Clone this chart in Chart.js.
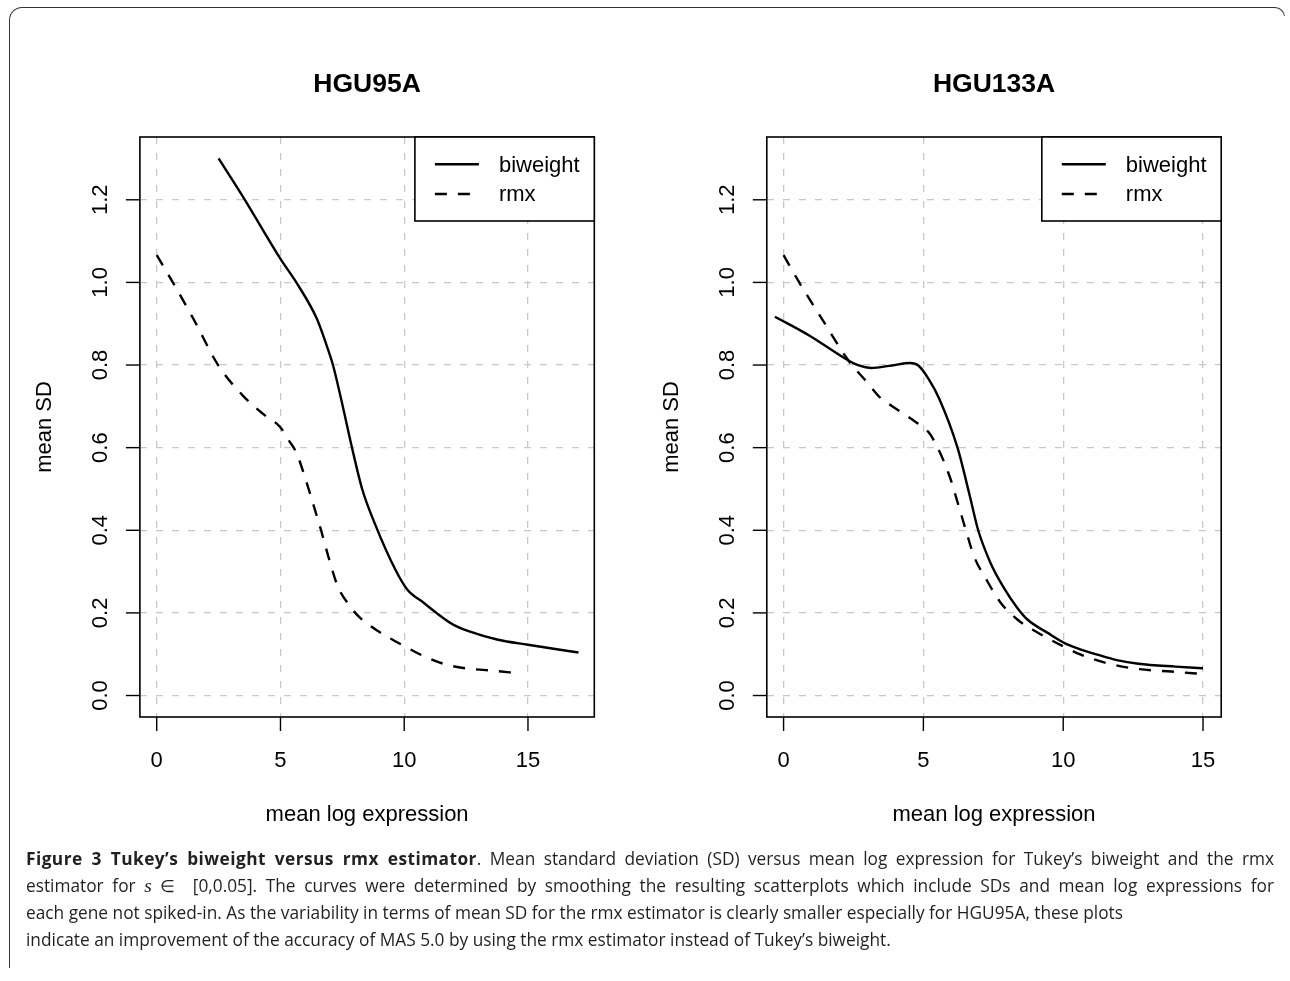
<!DOCTYPE html>
<html>
<head>
<meta charset="utf-8">
<script src="https://cdn.jsdelivr.net/npm/chart.js@4.4.1/dist/chart.umd.min.js"></script>
<style>
  html, body { margin: 0; padding: 0; background: #fff; width: 1290px; height: 981px; overflow: hidden; }
  #frame { position: absolute; left: 9px; top: 7px; width: 1276px; height: 961px;
           border-top: 1.5px solid #333; border-left: 1.5px solid #333; border-right: 1.5px solid #333;
           border-top-left-radius: 13px; border-top-right-radius: 10px; box-sizing: border-box; }
  #frameMask { position: absolute; left: 1276px; top: 16px; width: 14px; height: 965px; background: #fff; }
  canvas { position: absolute; top: 0; }
  #c1 { left: 0; }
  #c2 { left: 645px; }
  #caption { position: absolute; left: 26px; top: 845px; width: 1248px; font-family: "Open Sans", sans-serif;
             font-size: 17.3px; line-height: 27px; color: #231f20; }
  #caption .j { text-align: justify; text-align-last: justify; white-space: nowrap; }
  #caption .l { text-align: left; white-space: nowrap; }
  #caption b { font-weight: 700; letter-spacing: 0.45px; }
  #caption i { font-family: "Liberation Serif", serif; font-style: italic; font-size: 19.5px; }
</style>
</head>
<body>
<div id="frame"></div>
<div id="frameMask"></div>
<canvas id="c1" width="645" height="850"></canvas>
<canvas id="c2" width="645" height="850"></canvas>
<div id="caption">
  <div class="j"><b>Figure 3 Tukey’s biweight versus rmx estimator</b>. Mean standard deviation (SD) versus mean log expression for Tukey’s biweight and the rmx</div>
  <div class="j">estimator for <i>s</i> ∈&nbsp; [0,0.05]. The curves were determined by smoothing the resulting scatterplots which include SDs and mean log expressions for</div>
  <div class="l">each gene not spiked-in. As the variability in terms of mean SD for the rmx estimator is clearly smaller especially for HGU95A, these plots</div>
  <div class="l">indicate an improvement of the accuracy of MAS 5.0 by using the rmx estimator instead of Tukey’s biweight.</div>
</div>
<script>
// ---------- data ----------
const seriesNames = ['biweight', 'rmx'];
const xTicks = [0, 5, 10, 15];
const xTickLabels = ['0', '5', '10', '15'];
const yTicks = [0, 0.2, 0.4, 0.6, 0.8, 1.0, 1.2];
const yTickLabels = ['0.0', '0.2', '0.4', '0.6', '0.8', '1.0', '1.2'];

// HGU95A
const hgu95BiweightX = [2.5, 3.56, 5.0, 5.64, 6.47, 6.85, 7.12, 7.45, 7.89, 8.30, 8.80, 9.64, 10.13, 10.80, 11.30, 11.97, 12.63, 13.79, 15.0, 17.04];
const hgu95BiweightY = [1.30, 1.20, 1.057, 1.0, 0.912, 0.850, 0.80, 0.718, 0.60, 0.50, 0.418, 0.305, 0.256, 0.224, 0.20, 0.172, 0.155, 0.135, 0.123, 0.104];
const hgu95RmxX = [0, 0.65, 1.48, 2.48, 3.48, 4.31, 5.0, 5.31, 5.64, 6.06, 6.39, 6.64, 6.97, 7.31, 7.81, 8.22, 8.97, 10.02, 10.80, 11.63, 12.46, 13.63, 14.58];
const hgu95RmxY = [1.066, 1.0, 0.912, 0.80, 0.726, 0.681, 0.649, 0.62, 0.588, 0.515, 0.45, 0.40, 0.329, 0.265, 0.216, 0.188, 0.155, 0.119, 0.095, 0.076, 0.066, 0.060, 0.054];

// HGU133A
const hgu133BiweightX = [-0.31, 0.93, 2.32, 2.69, 3.13, 3.87, 4.53, 4.82, 5.19, 5.57, 6.22, 6.66, 6.96, 7.40, 7.84, 8.36, 8.72, 9.46, 10.05, 10.49, 11.22, 11.96, 12.69, 14.02, 15.0];
const hgu133BiweightY = [0.917, 0.871, 0.811, 0.799, 0.793, 0.799, 0.805, 0.799, 0.766, 0.718, 0.60, 0.483, 0.40, 0.321, 0.265, 0.212, 0.184, 0.151, 0.127, 0.115, 0.099, 0.085, 0.077, 0.070, 0.066];
const hgu133RmxX = [0, 0.56, 1.37, 2.32, 2.99, 3.50, 3.87, 4.75, 5.19, 5.48, 5.93, 6.30, 6.52, 6.81, 7.25, 7.77, 8.36, 9.02, 10.0, 10.63, 11.52, 12.69, 13.87, 15.0];
const hgu133RmxY = [1.066, 1.0, 0.912, 0.811, 0.758, 0.718, 0.701, 0.661, 0.637, 0.604, 0.532, 0.45, 0.40, 0.337, 0.281, 0.224, 0.184, 0.155, 0.119, 0.099, 0.079, 0.064, 0.058, 0.052];

// ---------- helpers ----------
const FONT = '"Liberation Sans", Arial, Helvetica, sans-serif';
function pts(xs, ys) { return xs.map((x, i) => ({ x: x, y: ys[i] })); }

const rStyle = {
  id: 'rStyle',
  afterDraw(chart) {
    const o = chart.options.plugins.rStyle;
    const { ctx, chartArea: a, scales: { x, y } } = chart;
    ctx.save();
    ctx.fillStyle = '#000';
    ctx.strokeStyle = '#000';
    // box
    ctx.lineWidth = 1.6;
    ctx.setLineDash([]);
    ctx.strokeRect(a.left, a.top, a.right - a.left, a.bottom - a.top);
    // x axis ticks & labels
    ctx.font = '22px ' + FONT;
    ctx.textAlign = 'center';
    ctx.textBaseline = 'alphabetic';
    ctx.lineWidth = 1.4;
    x.ticks.forEach((t, i) => {
      const px = x.getPixelForValue(t.value);
      ctx.beginPath(); ctx.moveTo(px, a.bottom); ctx.lineTo(px, a.bottom + 14); ctx.stroke();
      ctx.fillText(xTickLabels[i], px, a.bottom + 50.4);
    });
    // y axis ticks & labels (rotated)
    y.ticks.forEach((t, i) => {
      const py = y.getPixelForValue(t.value);
      ctx.beginPath(); ctx.moveTo(a.left - 14, py); ctx.lineTo(a.left, py); ctx.stroke();
      ctx.save();
      ctx.translate(a.left - 41, py);
      ctx.rotate(-Math.PI / 2);
      ctx.fillText(yTickLabels[i], 0, 7.9);
      ctx.restore();
    });
    // axis titles
    const cx = (a.left + a.right) / 2;
    ctx.fillText(o.xTitle, cx, a.bottom + 104);
    ctx.save();
    ctx.translate(a.left - 89, (a.top + a.bottom) / 2);
    ctx.rotate(-Math.PI / 2);
    ctx.fillText(o.yTitle, 0, 0);
    ctx.restore();
    // main title
    ctx.font = 'bold 26.5px ' + FONT;
    ctx.fillText(o.title, cx, 92);
    // legend
    const lw = 179.4, lh = 84;
    const lx = a.right - lw, ly = a.top;
    ctx.fillStyle = '#fff';
    ctx.fillRect(lx, ly, lw, lh);
    ctx.lineWidth = 1.6;
    ctx.strokeStyle = '#000';
    ctx.strokeRect(lx, ly, lw, lh);
    ctx.font = '22px ' + FONT;
    ctx.textAlign = 'left';
    ctx.fillStyle = '#000';
    const rows = [27.3, 57];
    chart.data.datasets.forEach((ds, i) => {
      const yy = ly + rows[i];
      ctx.save();
      ctx.lineWidth = ds.borderWidth;
      ctx.setLineDash(ds.borderDash || []);
      ctx.beginPath(); ctx.moveTo(lx + 20, yy); ctx.lineTo(lx + 64, yy); ctx.stroke();
      ctx.restore();
      ctx.fillText(ds.label, lx + 84, yy + 7.3);
    });
    ctx.restore();
  }
};

function makeChart(id, title, bx, by, rx, ry, xmin, xmax, pad) {
  return new Chart(document.getElementById(id), {
    type: 'line',
    data: {
      datasets: [
        { label: seriesNames[0], data: pts(bx, by), borderColor: '#000', borderWidth: 2.4,
          pointRadius: 0, fill: false, cubicInterpolationMode: 'monotone' },
        { label: seriesNames[1], data: pts(rx, ry), borderColor: '#000', borderWidth: 2.4,
          borderDash: [12, 11], pointRadius: 0, fill: false, cubicInterpolationMode: 'monotone' }
      ]
    },
    options: {
      responsive: false,
      animation: false,
      devicePixelRatio: 1,
      layout: { padding: pad },
      plugins: {
        legend: { display: false },
        tooltip: { enabled: false },
        title: { display: false },
        rStyle: { title: title, xTitle: 'mean log expression', yTitle: 'mean SD' }
      },
      scales: {
        x: {
          type: 'linear', min: xmin, max: xmax,
          afterBuildTicks: s => { s.ticks = xTicks.map(v => ({ value: v })); },
          ticks: { display: false },
          grid: { color: '#c8c8c8', lineWidth: 1.3, drawTicks: false },
          border: { display: false, dash: [7, 9] }
        },
        y: {
          type: 'linear', min: -0.052, max: 1.352,
          afterBuildTicks: s => { s.ticks = yTicks.map(v => ({ value: v })); },
          ticks: { display: false },
          grid: { color: '#c8c8c8', lineWidth: 1.3, drawTicks: false },
          border: { display: false, dash: [7, 9] }
        }
      }
    },
    plugins: [rStyle]
  });
}

makeChart('c1', 'HGU95A', hgu95BiweightX, hgu95BiweightY, hgu95RmxX, hgu95RmxY, -0.68, 17.68,
  { left: 139.9, right: 50.7, top: 137, bottom: 133 });
makeChart('c2', 'HGU133A', hgu133BiweightX, hgu133BiweightY, hgu133RmxX, hgu133RmxY, -0.6, 15.65,
  { left: 121.8, right: 68.8, top: 137, bottom: 133 });
</script>
</body>
</html>
